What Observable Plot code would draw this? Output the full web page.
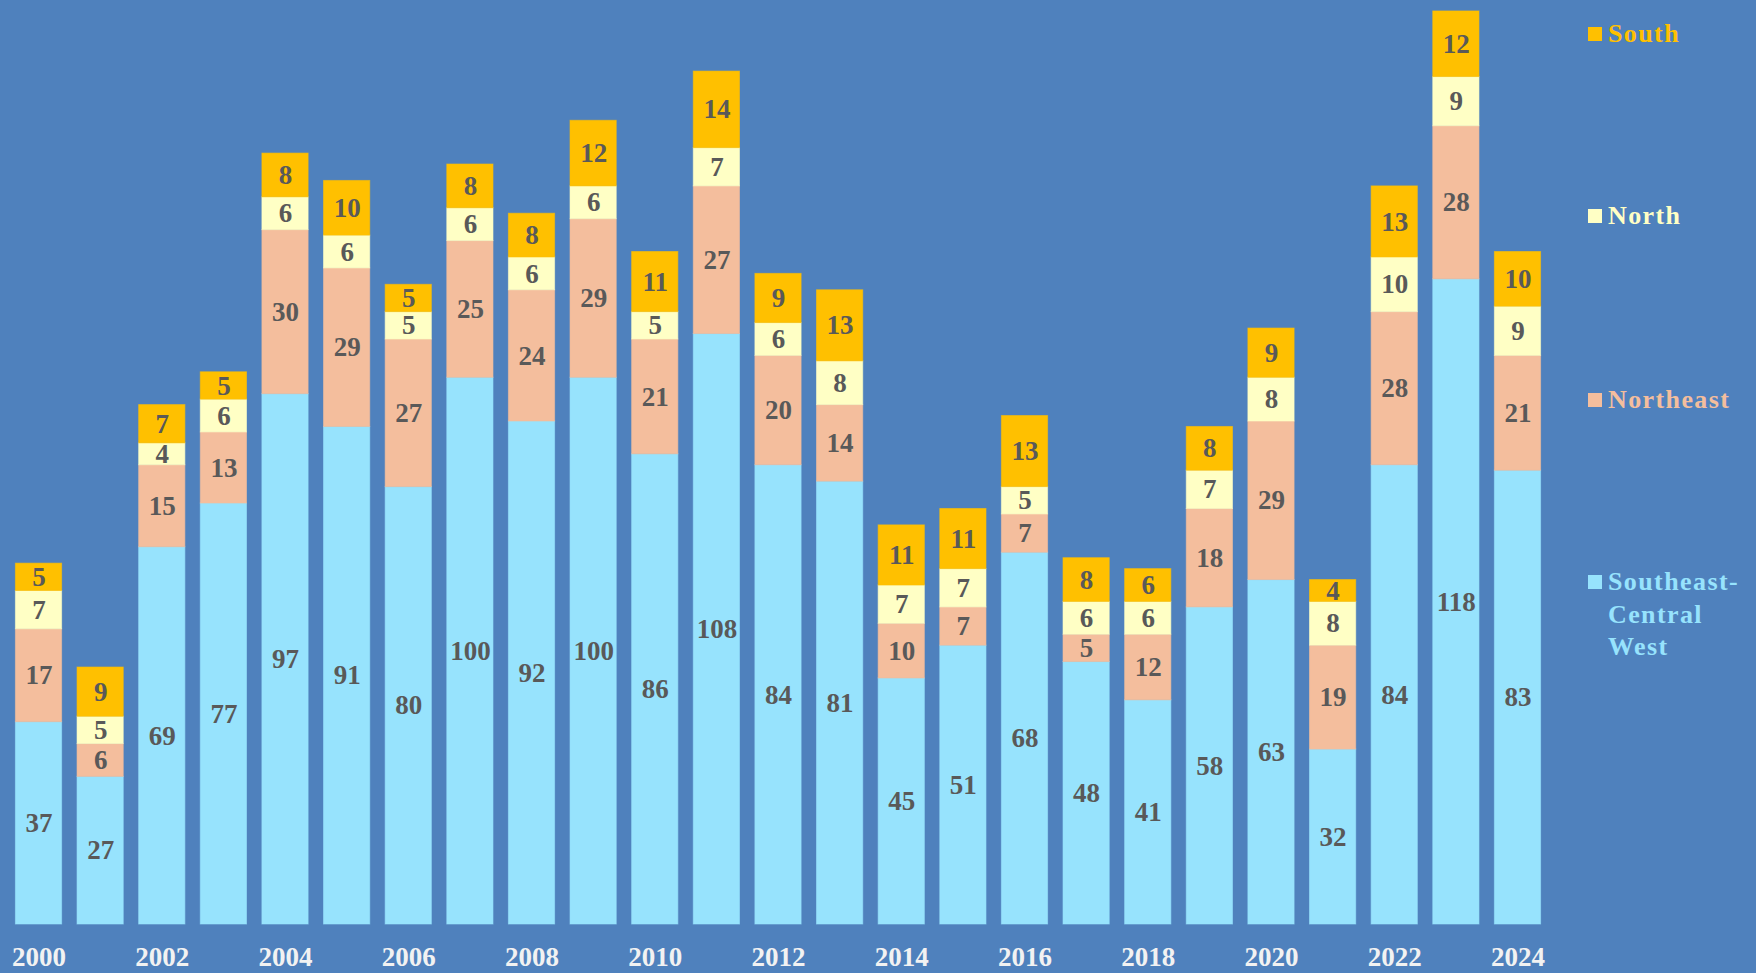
<!DOCTYPE html>
<html>
<head>
<meta charset="utf-8">
<script src="https://cdn.jsdelivr.net/npm/d3@7"></script>
<script src="https://cdn.jsdelivr.net/npm/@observablehq/plot@0.6"></script>
<style>
  html, body { margin: 0; padding: 0; background: #4f81bd; }
  #wrap { position: relative; width: 1756px; height: 973px; overflow: hidden; }
  #legend { position: absolute; left: 1588px; top: 0; font-family: "Liberation Serif", serif; font-weight: bold; font-size: 26px; letter-spacing: 1.4px; }
  .item { position: absolute; left: 0; white-space: nowrap; }
  .sw { position: absolute; left: 0; top: 9px; width: 14px; height: 14px; }
  .lab { position: absolute; left: 20px; top: 0; line-height: 32.5px; }
</style>
</head>
<body>
<div id="wrap"><div id="legend"></div></div>
<script>
const years = [2000,2001,2002,2003,2004,2005,2006,2007,2008,2009,2010,2011,2012,2013,2014,2015,2016,2017,2018,2019,2020,2021,2022,2023,2024];
const seriesNames = ["Southeast-Central West", "Northeast", "North", "South"];
const southeastCentralWest = [37,27,69,77,97,91,80,100,92,100,86,108,84,81,45,51,68,48,41,58,63,32,84,118,83];
const northeast = [17,6,15,13,30,29,27,25,24,29,21,27,20,14,10,7,7,5,12,18,29,19,28,28,21];
const north = [7,5,4,6,6,6,5,6,6,6,5,7,6,8,7,7,5,6,6,7,8,8,10,9,9];
const south = [5,9,7,5,8,10,5,8,8,12,11,14,9,13,11,11,13,8,6,8,9,4,13,12,10];
const colors = ["#97e3fd", "#f4be9d", "#ffffc5", "#ffc000"];

const seriesValues = [southeastCentralWest, northeast, north, south];
const rows = [];
years.forEach((yr, i) => {
  let base = 0;
  seriesValues.forEach((vals, s) => {
    const v = vals[i];
    rows.push({year: yr, series: seriesNames[s], value: v, y1: base, y2: base + v, mid: base + v / 2});
    base += v;
  });
});

const font = '"Liberation Serif", serif';
const chart = Plot.plot({
  width: 1756,
  height: 973,
  marginLeft: 0,
  marginRight: 200,
  marginTop: 0,
  marginBottom: 49,
  style: {background: "#4f81bd", fontFamily: font},
  x: {domain: years, padding: 0.25, round: false, axis: null},
  y: {domain: [0, 169], axis: null},
  color: {domain: seriesNames, range: colors},
  marks: [
    Plot.barY(rows, {x: "year", y1: "y1", y2: "y2", fill: "series", stroke: "series", strokeOpacity: 0.6, strokeWidth: 1, inset: 0}),
    Plot.text(rows, {x: "year", y: "mid", text: d => String(d.value), fill: "#595959", fontSize: 27, fontWeight: "bold", fontFamily: font}),
    Plot.axisX({domain: years, tickSize: 0, tickPadding: 22, tickFormat: d => d % 2 === 0 ? String(d) : "", fill: "#f2f2f2", fontSize: 27, fontWeight: "bold", fontFamily: font, label: null})
  ]
});
document.getElementById("wrap").prepend(chart);

const legendItems = [
  {color: colors[3], center: 34, lines: ["South"]},
  {color: colors[2], center: 216, lines: ["North"]},
  {color: colors[1], center: 400, lines: ["Northeast"]},
  {color: colors[0], center: 582, lines: ["Southeast-", "Central", "West"]}
];
const leg = document.getElementById("legend");
legendItems.forEach(it => {
  const d = document.createElement("div");
  d.className = "item";
  d.style.top = (it.center - 16) + "px";
  d.innerHTML = `<div class="sw" style="background:${it.color}"></div><div class="lab" style="color:${it.color}">${it.lines.join("<br>")}</div>`;
  leg.appendChild(d);
});
</script>
</body>
</html>
